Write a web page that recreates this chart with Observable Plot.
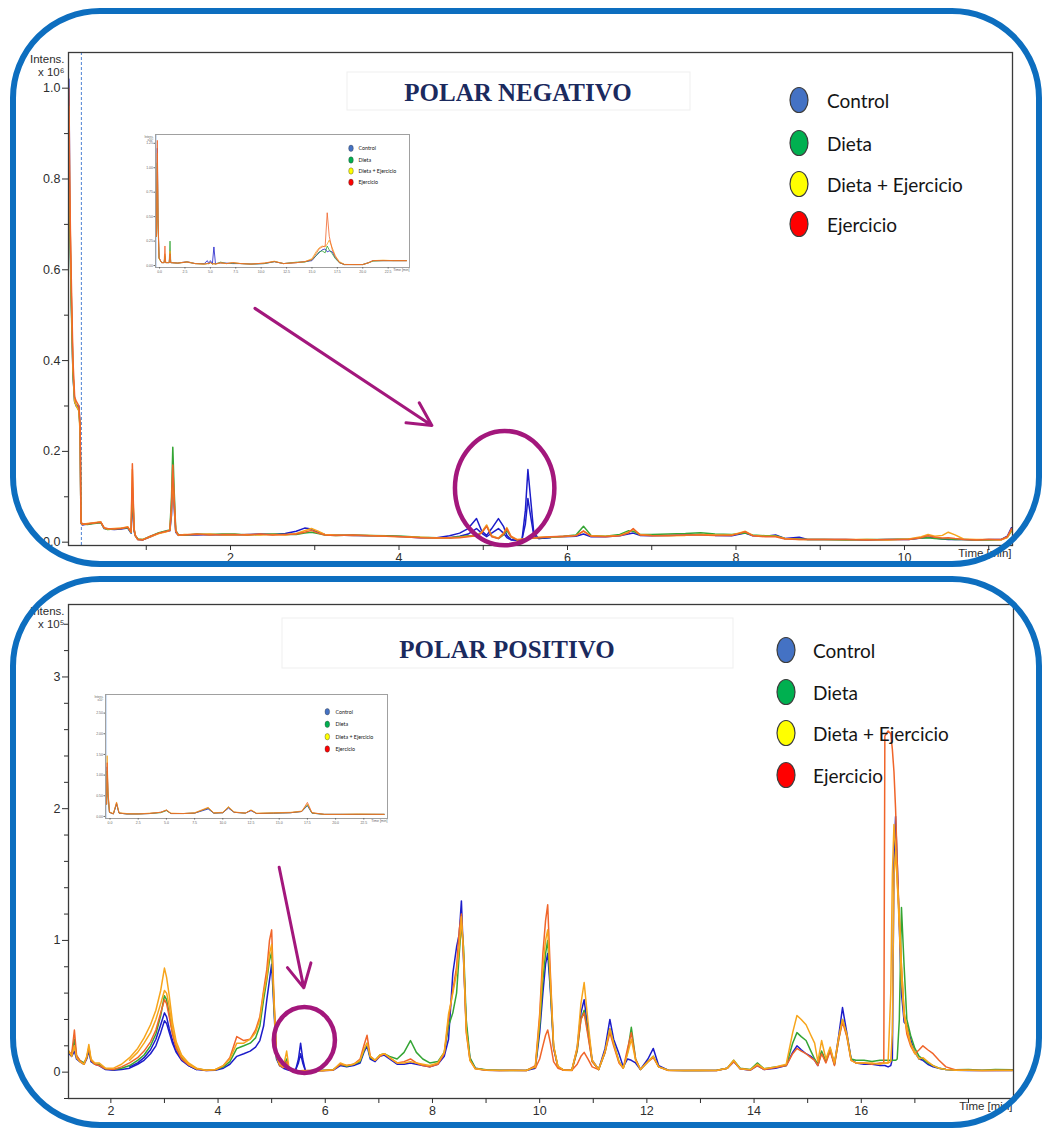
<!DOCTYPE html>
<html><head><meta charset="utf-8">
<script src="https://cdn.jsdelivr.net/npm/d3@7"></script>
<script src="https://cdn.jsdelivr.net/npm/@observablehq/plot@0.6"></script>
<style>
body{margin:0;background:#fff;}
#page{position:relative;width:1044px;height:1131px;overflow:hidden;background:#fff;}
.border{position:absolute;box-sizing:border-box;border:6px solid #0d6ebf;border-radius:90px;pointer-events:none;}
#err{position:absolute;left:0;top:0;color:red;font:12px sans-serif;z-index:99}
</style></head>
<body><div id="page"><div id="err"></div></div>
<script>
// ---------- categories ----------
const groups = ["Control", "Dieta", "Dieta + Ejercicio", "Ejercicio"];

// ---------- POLAR NEGATIVO (time in min, intensity x10^6) ----------
const tNeg = [
 0.08, 0.085, 0.09, 0.10, 0.11, 0.13, 0.15, 0.17, 0.20, 0.215,
 0.225, 0.24, 0.30, 0.38, 0.46, 0.50, 0.54, 0.62, 0.70, 0.78,
 0.82, 0.835, 0.845, 0.855, 0.87, 0.90, 0.96, 1.05, 1.15, 1.24,
 1.28, 1.30, 1.315, 1.33, 1.35, 1.38, 1.45, 1.60, 1.75, 1.90,
 2.05, 2.20, 2.35, 2.50, 2.65, 2.78, 2.88, 2.96, 3.04, 3.12,
 3.25, 3.45, 3.65, 3.85, 4.05, 4.25, 4.45, 4.60, 4.72, 4.82,
 4.92, 4.98, 5.04, 5.10, 5.18, 5.24, 5.28, 5.33, 5.40, 5.46,
 5.50, 5.53, 5.56, 5.60, 5.66, 5.80, 5.95, 6.10, 6.19, 6.28,
 6.45, 6.62, 6.72, 6.78, 6.86, 7.00, 7.20, 7.40, 7.58, 7.75,
 7.95, 8.05, 8.11, 8.20, 8.35, 8.47, 8.58, 8.75, 8.85, 9.05,
 9.30, 9.55, 9.80, 10.05, 10.20, 10.28, 10.36, 10.45, 10.52, 10.60,
 10.70, 10.85, 11.00, 11.15, 11.22, 11.27];
const controlNeg = [
 1.02, 0.95, 0.80, 0.64, 0.54, 0.37, 0.31, 0.30, 0.30, 0.25,
 0.042, 0.038, 0.040, 0.042, 0.044, 0.030, 0.029, 0.028, 0.029, 0.031,
 0.020, 0.09, 0.07, 0.025, 0.014, 0.006, 0.005, 0.012, 0.020, 0.024,
 0.025, 0.06, 0.14, 0.08, 0.022, 0.015, 0.016, 0.016, 0.017, 0.016,
 0.016, 0.017, 0.018, 0.017, 0.019, 0.024, 0.031, 0.029, 0.022, 0.017,
 0.016, 0.015, 0.014, 0.014, 0.012, 0.010, 0.010, 0.014, 0.020, 0.030,
 0.052, 0.025, 0.015, 0.030, 0.052, 0.035, 0.015, 0.006, 0.004, 0.006,
 0.07, 0.16, 0.10, 0.02, 0.008, 0.011, 0.012, 0.013, 0.018, 0.012,
 0.012, 0.014, 0.018, 0.020, 0.015, 0.014, 0.015, 0.016, 0.017, 0.015,
 0.014, 0.018, 0.020, 0.014, 0.013, 0.016, 0.008, 0.011, 0.006, 0.006,
 0.006, 0.005, 0.006, 0.006, 0.009, 0.011, 0.009, 0.007, 0.006, 0.006,
 0.006, 0.005, 0.006, 0.006, 0.013, 0.032];
const dietaNeg = [
 0.82, 0.78, 0.72, 0.62, 0.52, 0.37, 0.31, 0.30, 0.29, 0.25,
 0.044, 0.040, 0.039, 0.041, 0.043, 0.031, 0.028, 0.029, 0.030, 0.032,
 0.021, 0.12, 0.08, 0.028, 0.015, 0.007, 0.006, 0.013, 0.021, 0.025,
 0.027, 0.10, 0.209, 0.12, 0.026, 0.017, 0.015, 0.018, 0.017, 0.018,
 0.018, 0.016, 0.017, 0.018, 0.017, 0.017, 0.020, 0.022, 0.019, 0.016,
 0.015, 0.016, 0.015, 0.014, 0.013, 0.011, 0.010, 0.010, 0.012, 0.014,
 0.015, 0.021, 0.036, 0.013, 0.008, 0.016, 0.026, 0.011, 0.005, 0.006,
 0.006, 0.007, 0.008, 0.009, 0.010, 0.011, 0.013, 0.016, 0.035, 0.015,
 0.013, 0.017, 0.025, 0.024, 0.017, 0.017, 0.018, 0.019, 0.021, 0.018,
 0.017, 0.019, 0.020, 0.016, 0.014, 0.014, 0.008, 0.007, 0.006, 0.006,
 0.005, 0.006, 0.006, 0.007, 0.009, 0.010, 0.008, 0.007, 0.007, 0.006,
 0.006, 0.005, 0.005, 0.006, 0.011, 0.024];
const dietaEjNeg = [
 0.96, 0.88, 0.78, 0.66, 0.55, 0.38, 0.31, 0.30, 0.29, 0.24,
 0.043, 0.039, 0.041, 0.043, 0.045, 0.031, 0.029, 0.030, 0.031, 0.034,
 0.022, 0.16, 0.09, 0.030, 0.014, 0.006, 0.006, 0.012, 0.019, 0.023,
 0.026, 0.07, 0.15, 0.09, 0.024, 0.015, 0.017, 0.017, 0.018, 0.016,
 0.016, 0.017, 0.016, 0.017, 0.016, 0.019, 0.025, 0.030, 0.024, 0.017,
 0.016, 0.015, 0.015, 0.013, 0.012, 0.011, 0.009, 0.010, 0.011, 0.013,
 0.013, 0.022, 0.038, 0.014, 0.009, 0.020, 0.032, 0.013, 0.006, 0.007,
 0.007, 0.008, 0.009, 0.010, 0.011, 0.012, 0.012, 0.015, 0.024, 0.014,
 0.013, 0.015, 0.022, 0.028, 0.017, 0.015, 0.014, 0.015, 0.017, 0.016,
 0.016, 0.021, 0.024, 0.015, 0.013, 0.013, 0.008, 0.006, 0.006, 0.006,
 0.006, 0.006, 0.005, 0.007, 0.012, 0.017, 0.013, 0.015, 0.022, 0.016,
 0.007, 0.006, 0.006, 0.005, 0.010, 0.026];
const ejercicioNeg = [
 1.00, 0.93, 0.82, 0.68, 0.58, 0.40, 0.32, 0.31, 0.30, 0.26,
 0.045, 0.040, 0.040, 0.042, 0.044, 0.032, 0.030, 0.029, 0.030, 0.033,
 0.022, 0.173, 0.10, 0.030, 0.015, 0.006, 0.005, 0.013, 0.020, 0.024,
 0.026, 0.08, 0.17, 0.10, 0.025, 0.016, 0.016, 0.018, 0.016, 0.017,
 0.017, 0.016, 0.018, 0.016, 0.017, 0.018, 0.022, 0.026, 0.020, 0.016,
 0.015, 0.016, 0.014, 0.013, 0.012, 0.010, 0.009, 0.009, 0.010, 0.012,
 0.014, 0.020, 0.035, 0.012, 0.008, 0.018, 0.030, 0.012, 0.005, 0.006,
 0.007, 0.008, 0.008, 0.009, 0.010, 0.012, 0.013, 0.014, 0.025, 0.013,
 0.012, 0.014, 0.020, 0.030, 0.016, 0.014, 0.015, 0.016, 0.016, 0.015,
 0.015, 0.020, 0.023, 0.014, 0.012, 0.012, 0.007, 0.006, 0.006, 0.006,
 0.006, 0.005, 0.006, 0.006, 0.010, 0.014, 0.011, 0.009, 0.010, 0.008,
 0.006, 0.005, 0.006, 0.006, 0.012, 0.030];
// second Control replicate (only where it differs)
const tNegControlRep = [4.60, 4.72, 4.82, 4.92, 4.98, 5.04, 5.10, 5.18, 5.24, 5.28, 5.33, 5.40, 5.46, 5.50, 5.53, 5.56, 5.60, 5.66, 5.80];
const controlNegRep = [0.010, 0.013, 0.018, 0.030, 0.020, 0.012, 0.020, 0.030, 0.020, 0.010, 0.005, 0.004, 0.006, 0.040, 0.096, 0.060, 0.015, 0.008, 0.010];
const negMarkerTime = [0.23];

// ---------- POLAR POSITIVO (time in min, intensity x10^5) ----------
const tPos = [
 1.22, 1.27, 1.32, 1.36, 1.42, 1.50, 1.55, 1.59, 1.63, 1.70,
 1.78, 1.90, 2.05, 2.20, 2.35, 2.50, 2.62, 2.74, 2.84, 2.93,
 3.00, 3.04, 3.09, 3.15, 3.22, 3.32, 3.45, 3.60, 3.78, 3.95,
 4.10, 4.22, 4.35, 4.48, 4.60, 4.70, 4.78, 4.85, 4.91, 4.96,
 5.00, 5.04, 5.09, 5.15, 5.22, 5.28, 5.32, 5.38, 5.45, 5.50,
 5.54, 5.58, 5.63, 5.75, 5.95, 6.15, 6.28, 6.40, 6.53, 6.65,
 6.72, 6.78, 6.84, 6.93, 7.02, 7.10, 7.20, 7.34, 7.47, 7.59,
 7.70, 7.82, 7.95, 8.10, 8.22, 8.30, 8.38, 8.45, 8.50, 8.54,
 8.58, 8.63, 8.70, 8.80, 9.00, 9.25, 9.50, 9.75, 9.92, 10.00,
 10.06, 10.11, 10.15, 10.20, 10.26, 10.34, 10.45, 10.60, 10.70, 10.77,
 10.83, 10.90, 10.98, 11.10, 11.22, 11.31, 11.38, 11.48, 11.56, 11.64,
 11.71, 11.79, 11.88, 12.02, 12.12, 12.22, 12.40, 12.70, 13.00, 13.30,
 13.50, 13.62, 13.74, 13.93, 14.06, 14.19, 14.40, 14.60, 14.72, 14.80,
 14.88, 14.97, 15.06, 15.13, 15.19, 15.26, 15.34, 15.42, 15.50, 15.58,
 15.65, 15.73, 15.81, 15.90, 16.05, 16.20, 16.35, 16.42, 16.44, 16.50,
 16.55, 16.58, 16.61, 16.64, 16.67, 16.71, 16.75, 16.80, 16.85, 16.92,
 17.00, 17.08, 17.15, 17.24, 17.34, 17.45, 17.58, 17.75, 18.00, 18.25,
 18.50, 18.82];
const controlPos = [
 0.14, 0.12, 0.16, 0.10, 0.08, 0.06, 0.10, 0.16, 0.08, 0.06,
 0.05, 0.02, 0.015, 0.02, 0.03, 0.06, 0.09, 0.14, 0.20, 0.30,
 0.39, 0.37, 0.30, 0.22, 0.15, 0.09, 0.05, 0.02, 0.012, 0.015,
 0.03, 0.06, 0.12, 0.14, 0.16, 0.19, 0.24, 0.35, 0.55, 0.70,
 0.82, 0.50, 0.10, 0.05, 0.03, 0.02, 0.015, 0.01, 0.02, 0.10,
 0.22, 0.10, 0.01, 0.01, 0.012, 0.015, 0.05, 0.04, 0.05, 0.07,
 0.15, 0.20, 0.10, 0.08, 0.12, 0.13, 0.10, 0.06, 0.06, 0.07,
 0.06, 0.05, 0.04, 0.06, 0.12, 0.25, 0.75, 0.95, 1.05, 1.30,
 0.85, 0.35, 0.10, 0.03, 0.015, 0.012, 0.015, 0.012, 0.03, 0.30,
 0.60, 0.82, 0.90, 0.62, 0.18, 0.04, 0.015, 0.015, 0.18, 0.45,
 0.55, 0.33, 0.09, 0.02, 0.18, 0.40, 0.25, 0.14, 0.04, 0.10,
 0.09, 0.07, 0.02, 0.10, 0.18, 0.05, 0.015, 0.012, 0.013, 0.012,
 0.03, 0.08, 0.025, 0.015, 0.05, 0.02, 0.03, 0.05, 0.15, 0.20,
 0.17, 0.14, 0.12, 0.09, 0.05, 0.15, 0.08, 0.17, 0.06, 0.28,
 0.49, 0.30, 0.10, 0.07, 0.06, 0.06, 0.05, 0.05, 0.05, 0.04,
 0.05, 0.10, 1.60, 1.94, 1.60, 1.10, 0.60, 0.38, 0.36, 0.25,
 0.15, 0.10, 0.09, 0.06, 0.04, 0.03, 0.02, 0.015, 0.013, 0.012,
 0.013, 0.012];
const dietaPos = [
 0.15, 0.13, 0.25, 0.12, 0.09, 0.07, 0.11, 0.18, 0.09, 0.06,
 0.06, 0.025, 0.02, 0.03, 0.05, 0.09, 0.13, 0.20, 0.29, 0.43,
 0.58, 0.55, 0.44, 0.30, 0.19, 0.11, 0.06, 0.025, 0.015, 0.018,
 0.04, 0.08, 0.18, 0.20, 0.22, 0.26, 0.35, 0.55, 0.70, 0.85,
 0.91, 0.55, 0.11, 0.05, 0.04, 0.10, 0.03, 0.01, 0.01, 0.01,
 0.01, 0.01, 0.01, 0.012, 0.013, 0.02, 0.06, 0.045, 0.06, 0.08,
 0.16, 0.22, 0.11, 0.09, 0.13, 0.14, 0.12, 0.10, 0.15, 0.24,
 0.15, 0.10, 0.07, 0.08, 0.15, 0.35, 0.45, 0.60, 0.90, 1.12,
 0.95, 0.40, 0.11, 0.03, 0.018, 0.015, 0.012, 0.014, 0.04, 0.35,
 0.70, 0.90, 1.00, 0.65, 0.20, 0.04, 0.015, 0.014, 0.16, 0.40,
 0.47, 0.30, 0.08, 0.02, 0.15, 0.33, 0.22, 0.08, 0.03, 0.15,
 0.34, 0.10, 0.02, 0.08, 0.12, 0.04, 0.014, 0.013, 0.012, 0.014,
 0.03, 0.09, 0.03, 0.02, 0.07, 0.025, 0.04, 0.05, 0.22, 0.30,
 0.27, 0.24, 0.16, 0.10, 0.06, 0.16, 0.08, 0.18, 0.06, 0.25,
 0.40, 0.28, 0.10, 0.09, 0.09, 0.08, 0.09, 0.09, 0.09, 0.09,
 0.09, 0.09, 0.09, 0.09, 0.10, 0.40, 1.25, 0.80, 0.40, 0.28,
 0.18, 0.12, 0.10, 0.07, 0.05, 0.03, 0.02, 0.018, 0.02, 0.015,
 0.02, 0.018];
const dietaEjPos = [
 0.16, 0.12, 0.20, 0.11, 0.08, 0.06, 0.12, 0.21, 0.10, 0.07,
 0.07, 0.03, 0.03, 0.06, 0.11, 0.18, 0.26, 0.36, 0.47, 0.62,
 0.79, 0.72, 0.58, 0.38, 0.23, 0.13, 0.07, 0.03, 0.015, 0.02,
 0.05, 0.10, 0.22, 0.22, 0.25, 0.30, 0.40, 0.60, 0.72, 0.90,
 0.97, 0.57, 0.12, 0.06, 0.04, 0.16, 0.04, 0.015, 0.01, 0.01,
 0.01, 0.012, 0.01, 0.01, 0.012, 0.018, 0.07, 0.05, 0.06, 0.09,
 0.17, 0.22, 0.12, 0.09, 0.13, 0.14, 0.11, 0.07, 0.07, 0.08,
 0.07, 0.06, 0.05, 0.07, 0.15, 0.44, 0.60, 0.75, 0.95, 1.18,
 0.90, 0.32, 0.09, 0.025, 0.016, 0.013, 0.014, 0.013, 0.04, 0.40,
 0.80, 1.00, 1.08, 0.70, 0.20, 0.045, 0.016, 0.015, 0.19, 0.52,
 0.68, 0.39, 0.09, 0.02, 0.16, 0.33, 0.22, 0.08, 0.03, 0.14,
 0.25, 0.09, 0.02, 0.08, 0.12, 0.04, 0.015, 0.012, 0.014, 0.013,
 0.03, 0.09, 0.025, 0.018, 0.06, 0.025, 0.04, 0.06, 0.30, 0.43,
 0.40, 0.36, 0.28, 0.22, 0.08, 0.24, 0.10, 0.19, 0.07, 0.27,
 0.40, 0.29, 0.09, 0.07, 0.07, 0.07, 0.06, 0.07, 0.07, 0.07,
 0.60, 1.50, 1.88, 1.70, 1.45, 1.20, 0.80, 0.45, 0.35, 0.22,
 0.15, 0.10, 0.11, 0.08, 0.05, 0.03, 0.02, 0.015, 0.014, 0.013,
 0.014, 0.013];
const ejercicioPos = [
 0.15, 0.14, 0.32, 0.13, 0.09, 0.06, 0.11, 0.19, 0.09, 0.06,
 0.05, 0.025, 0.02, 0.04, 0.07, 0.11, 0.16, 0.23, 0.32, 0.45,
 0.55, 0.52, 0.42, 0.29, 0.18, 0.10, 0.055, 0.025, 0.013, 0.018,
 0.05, 0.11, 0.27, 0.24, 0.25, 0.32, 0.42, 0.62, 0.78, 1.00,
 1.08, 0.60, 0.12, 0.05, 0.035, 0.08, 0.03, 0.012, 0.01, 0.01,
 0.01, 0.01, 0.012, 0.012, 0.01, 0.016, 0.06, 0.05, 0.06, 0.10,
 0.20, 0.28, 0.12, 0.09, 0.12, 0.14, 0.11, 0.07, 0.08, 0.10,
 0.07, 0.05, 0.04, 0.06, 0.14, 0.40, 0.62, 0.80, 1.08, 1.20,
 0.88, 0.30, 0.09, 0.025, 0.014, 0.013, 0.012, 0.012, 0.05, 0.44,
 0.90, 1.15, 1.27, 0.75, 0.19, 0.04, 0.014, 0.013, 0.17, 0.40,
 0.45, 0.28, 0.08, 0.02, 0.15, 0.30, 0.20, 0.07, 0.03, 0.18,
 0.30, 0.10, 0.02, 0.08, 0.11, 0.04, 0.013, 0.012, 0.012, 0.012,
 0.03, 0.08, 0.025, 0.016, 0.05, 0.02, 0.035, 0.05, 0.14, 0.18,
 0.16, 0.14, 0.11, 0.09, 0.05, 0.14, 0.07, 0.16, 0.05, 0.25,
 0.38, 0.27, 0.09, 0.07, 0.07, 0.06, 0.07, 0.07, 2.55, 2.59,
 2.57, 2.45, 2.28, 2.00, 1.60, 1.15, 0.80, 0.45, 0.29, 0.20,
 0.14, 0.17, 0.20, 0.17, 0.14, 0.09, 0.04, 0.018, 0.014, 0.012,
 0.012, 0.015];
// extra replicate traces (only over the stretches where they visibly differ)
const tPosControlRepA = [2.35, 2.50, 2.62, 2.74, 2.84, 2.93, 3.00, 3.04, 3.09, 3.15, 3.22, 3.32, 3.45, 3.60];
const controlPosRepA  = [0.04, 0.07, 0.11, 0.17, 0.25, 0.36, 0.45, 0.42, 0.33, 0.24, 0.16, 0.10, 0.05, 0.02];
const tPosControlRepB = [5.38, 5.45, 5.50, 5.54, 5.58, 5.63, 5.75];
const controlPosRepB  = [0.01, 0.02, 0.07, 0.14, 0.07, 0.01, 0.01];
const tPosDietaEjRepA = [2.35, 2.50, 2.62, 2.74, 2.84, 2.93, 3.00, 3.04, 3.09, 3.15, 3.22, 3.32, 3.45, 3.60];
const dietaEjPosRepA  = [0.09, 0.15, 0.22, 0.30, 0.40, 0.52, 0.62, 0.60, 0.50, 0.33, 0.21, 0.12, 0.06, 0.025];
const tPosDietaEjRepB = [16.42, 16.50, 16.55, 16.58, 16.61, 16.64, 16.67, 16.71, 16.75, 16.80, 16.85, 16.92, 17.00];
const dietaEjPosRepB  = [0.07, 0.07, 0.08, 0.30, 1.50, 1.68, 1.45, 1.10, 0.70, 0.42, 0.32, 0.22, 0.14];
const tPosEjercicioRep = [9.92, 10.00, 10.06, 10.11, 10.15, 10.20, 10.26, 10.34, 10.45, 10.60, 10.70, 10.77, 10.83, 10.90, 10.98, 11.10];
const ejercicioPosRep  = [0.03, 0.10, 0.20, 0.28, 0.32, 0.22, 0.08, 0.03, 0.015, 0.014, 0.06, 0.12, 0.15, 0.10, 0.04, 0.02];

// ---------- inset thumbnails (full-run overview) ----------
const tInsetNeg = [
 -0.3, -0.22, -0.15, -0.05, 0.2, 0.45, 0.53, 0.6, 0.95, 1.03,
 1.1, 1.8, 2.7, 3.5, 4.4, 4.7, 4.85, 5.0, 5.2, 5.35,
 5.5, 6.0, 6.6, 7.2, 8.0, 9.0, 10.3, 11.3, 12.2, 13.5,
 14.3, 15.0, 15.4, 15.7, 16.0, 16.3, 16.5, 16.7, 17.0, 17.3,
 17.7, 18.2, 19.0, 20.0, 20.6, 21.0, 22.0, 23.0, 24.3];
const insetNegControl = [
 0.3, 1.20, 0.48, 0.08, 0.03, 0.03, 0.08, 0.03, 0.03, 0.12,
 0.03, 0.025, 0.04, 0.02, 0.02, 0.05, 0.02, 0.05, 0.02, 0.19,
 0.02, 0.025, 0.025, 0.02, 0.02, 0.015, 0.02, 0.04, 0.02, 0.03,
 0.04, 0.05, 0.10, 0.13, 0.16, 0.17, 0.14, 0.15, 0.14, 0.08,
 0.03, 0.01, 0.01, 0.01, 0.03, 0.05, 0.05, 0.05, 0.05];
const insetNegDieta = [
 0.3, 1.05, 0.42, 0.07, 0.03, 0.03, 0.10, 0.03, 0.03, 0.25,
 0.03, 0.025, 0.035, 0.02, 0.015, 0.02, 0.02, 0.03, 0.015, 0.02,
 0.015, 0.035, 0.02, 0.025, 0.02, 0.015, 0.02, 0.04, 0.02, 0.035,
 0.035, 0.06, 0.10, 0.14, 0.15, 0.13, 0.20, 0.16, 0.12, 0.07,
 0.03, 0.01, 0.01, 0.01, 0.03, 0.045, 0.05, 0.05, 0.05];
const insetNegDietaEj = [
 0.3, 1.15, 0.45, 0.07, 0.03, 0.03, 0.12, 0.03, 0.03, 0.15,
 0.03, 0.025, 0.04, 0.02, 0.015, 0.02, 0.02, 0.03, 0.015, 0.02,
 0.015, 0.025, 0.02, 0.03, 0.02, 0.015, 0.025, 0.045, 0.02, 0.03,
 0.04, 0.07, 0.14, 0.18, 0.20, 0.19, 0.22, 0.26, 0.18, 0.10,
 0.04, 0.012, 0.01, 0.01, 0.03, 0.05, 0.055, 0.05, 0.05];
const insetNegEjercicio = [
 0.3, 1.28, 0.50, 0.08, 0.03, 0.03, 0.20, 0.03, 0.03, 0.12,
 0.03, 0.025, 0.035, 0.02, 0.015, 0.02, 0.02, 0.03, 0.015, 0.02,
 0.015, 0.03, 0.02, 0.03, 0.02, 0.015, 0.025, 0.04, 0.02, 0.03,
 0.04, 0.06, 0.12, 0.17, 0.19, 0.20, 0.54, 0.30, 0.16, 0.09,
 0.03, 0.01, 0.01, 0.01, 0.03, 0.05, 0.05, 0.05, 0.05];
const tInsetPos = [
 -0.3, -0.25, -0.18, -0.05, 0.3, 0.58, 0.8, 1.5, 2.5, 3.5,
 4.5, 5.0, 5.4, 6.5, 7.5, 8.7, 9.2, 10.0, 10.5, 11.0,
 12.0, 12.5, 13.0, 14.5, 16.0, 17.0, 17.5, 17.9, 19.0, 20.5,
 22.0, 24.3];
const insetPosControl = [
 0.3, 1.20, 0.55, 0.10, 0.06, 0.30, 0.08, 0.06, 0.06, 0.07,
 0.10, 0.15, 0.07, 0.07, 0.08, 0.18, 0.08, 0.09, 0.20, 0.10,
 0.08, 0.14, 0.07, 0.08, 0.09, 0.12, 0.26, 0.08, 0.05, 0.05,
 0.05, 0.05];
const insetPosDieta = [
 0.3, 1.10, 0.50, 0.10, 0.06, 0.32, 0.08, 0.06, 0.06, 0.07,
 0.09, 0.14, 0.07, 0.07, 0.08, 0.20, 0.08, 0.09, 0.22, 0.10,
 0.08, 0.15, 0.07, 0.08, 0.09, 0.12, 0.28, 0.08, 0.05, 0.05,
 0.05, 0.05];
const insetPosDietaEj = [
 0.3, 1.47, 0.65, 0.11, 0.07, 0.35, 0.09, 0.07, 0.06, 0.08,
 0.10, 0.16, 0.08, 0.07, 0.09, 0.22, 0.09, 0.10, 0.24, 0.11,
 0.08, 0.16, 0.08, 0.09, 0.10, 0.13, 0.30, 0.09, 0.05, 0.05,
 0.06, 0.05];
const insetPosEjercicio = [
 0.3, 1.30, 0.60, 0.10, 0.06, 0.33, 0.08, 0.06, 0.06, 0.07,
 0.10, 0.15, 0.07, 0.07, 0.08, 0.21, 0.08, 0.09, 0.22, 0.10,
 0.08, 0.15, 0.07, 0.08, 0.09, 0.12, 0.34, 0.09, 0.05, 0.05,
 0.05, 0.05];

// ---------- tick labels ----------
const negYTicks = [0, 0.2, 0.4, 0.6, 0.8, 1.0];
const negYMinor = [0.1, 0.3, 0.5, 0.7, 0.9];
const negXTicks = [2, 4, 6, 8, 10];
const negXMinor = [1, 3, 5, 7, 9, 11];
const posYTicks = [0, 1, 2, 3];
const posYMinor = [-0.2, 0.2, 0.4, 0.6, 0.8, 1.2, 1.4, 1.6, 1.8, 2.2, 2.4, 2.6, 2.8, 3.2, 3.4];
const posXTicks = [2, 4, 6, 8, 10, 12, 14, 16];
const posXMinor = [3, 5, 7, 9, 11, 13, 15, 17, 18];
const insetXTicks = [0, 2.5, 5, 7.5, 10, 12.5, 15, 17.5, 20, 22.5];
const insetNegYTicks = [0, 0.25, 0.5, 0.75, 1.0, 1.25];
const insetPosYTicks = [0, 0.5, 1.0, 1.5, 2.0, 2.5];

// ---------- annotations (in data units) ----------
const arrowNeg = [{fromTime: 2.29, fromIntens: 0.515, toTime: 4.39, toIntens: 0.257}];
const circleNeg = {time: 5.26, intens: 0.118, halfWidth: 0.59, halfHeight: 0.126};
const arrowPos = [{fromTime: 5.14, fromIntens: 1.555, toTime: 5.60, toIntens: 0.64}];
const circlePos = {time: 5.62, intens: 0.24, halfWidth: 0.57, halfHeight: 0.25};

// ================= rendering =================
const lineColors = ["#1c1cc9", "#34a534", "#f7a51c", "#f0652a"];
const legendColors = ["#4472c4", "#00b050", "#ffff00", "#ff0000"];
const magenta = "#a3177c";
const page = document.getElementById("page");
const errs = [];

function trace(group, time, value, name) {
  if (time.length !== value.length) errs.push(name + ": " + time.length + " vs " + value.length);
  return {group, time, value};
}
function toRows(traces) {
  const rows = [];
  traces.forEach((tr, i) => tr.time.forEach((t, j) => rows.push({time: t, intens: tr.value[j], group: tr.group, trace: i})));
  return rows;
}
function place(el, left, top) {
  el.style.position = "absolute"; el.style.left = left + "px"; el.style.top = top + "px";
  page.appendChild(el);
}

const negRows = toRows([
  trace("Control", tNeg, controlNeg, "controlNeg"),
  trace("Control", tNegControlRep, controlNegRep, "controlNegRep"),
  trace("Dieta", tNeg, dietaNeg, "dietaNeg"),
  trace("Dieta + Ejercicio", tNeg, dietaEjNeg, "dietaEjNeg"),
  trace("Ejercicio", tNeg, ejercicioNeg, "ejercicioNeg")
]);
const posRows = toRows([
  trace("Control", tPos, controlPos, "controlPos"),
  trace("Control", tPosControlRepA, controlPosRepA, "controlPosRepA"),
  trace("Control", tPosControlRepB, controlPosRepB, "controlPosRepB"),
  trace("Dieta", tPos, dietaPos, "dietaPos"),
  trace("Ejercicio", tPos, ejercicioPos, "ejercicioPos"),
  trace("Ejercicio", tPosEjercicioRep, ejercicioPosRep, "ejercicioPosRep"),
  trace("Dieta + Ejercicio", tPos, dietaEjPos, "dietaEjPos"),
  trace("Dieta + Ejercicio", tPosDietaEjRepA, dietaEjPosRepA, "dietaEjPosRepA"),
  trace("Dieta + Ejercicio", tPosDietaEjRepB, dietaEjPosRepB, "dietaEjPosRepB")
]);
const insetNegRows = toRows([
  trace("Control", tInsetNeg, insetNegControl, "insetNegControl"),
  trace("Dieta", tInsetNeg, insetNegDieta, "insetNegDieta"),
  trace("Dieta + Ejercicio", tInsetNeg, insetNegDietaEj, "insetNegDietaEj"),
  trace("Ejercicio", tInsetNeg, insetNegEjercicio, "insetNegEjercicio")
]);
const insetPosRows = toRows([
  trace("Control", tInsetPos, insetPosControl, "insetPosControl"),
  trace("Dieta", tInsetPos, insetPosDieta, "insetPosDieta"),
  trace("Dieta + Ejercicio", tInsetPos, insetPosDietaEj, "insetPosDietaEj"),
  trace("Ejercicio", tInsetPos, insetPosEjercicio, "insetPosEjercicio")
]);

const blank = () => "";
const axisFont = "'Liberation Sans', Arial, sans-serif";

function mainChart(o) {
  const marks = [];
  if (o.marker) marks.push(Plot.ruleX(o.marker, {stroke: "#4f83d4", strokeDasharray: "3,2", strokeWidth: 1}));
  marks.push(
    Plot.line(o.rows, {x: "time", y: "intens", z: "trace", stroke: "group", strokeWidth: 1.5, strokeLinejoin: "round"}),
    Plot.frame({stroke: "#3a3a3a", strokeWidth: 1.3}),
    Plot.axisY({ticks: o.yTicks, tickSize: 6, tickPadding: 2, tickFormat: o.yFormat, label: null, fontSize: 12.5}),
    Plot.axisY({ticks: o.yMinor, tickSize: 4, tickFormat: blank, label: null}),
    Plot.axisX({ticks: o.xTicks, tickSize: 5, tickPadding: 3, label: null, fontSize: 12.5}),
    Plot.axisX({ticks: o.xMinor, tickSize: 5, tickFormat: blank, label: null}),
    Plot.text(["Intens."], {text: d => d, frameAnchor: "top-left", dx: -4, dy: 2, textAnchor: "end", fontSize: 11.5}),
    Plot.text([o.unit], {text: d => d, frameAnchor: "top-left", dx: -4, dy: 15, textAnchor: "end", fontSize: 11.5}),
    Plot.text(["Time [min]"], {text: d => d, frameAnchor: "bottom-right", dx: -1, dy: 11, textAnchor: "end", fontSize: 11.5}),
    Plot.arrow(o.arrow, {x1: "fromTime", y1: "fromIntens", x2: "toTime", y2: "toIntens", stroke: magenta, strokeWidth: 3, headLength: 13, headAngle: 55})
  );
  const chart = Plot.plot({
    width: 1044, height: o.height,
    marginLeft: 68, marginRight: o.mr, marginTop: o.mt, marginBottom: o.mb,
    x: {domain: o.xDomain, label: null},
    y: {domain: o.yDomain, label: null},
    color: {domain: groups, range: lineColors},
    style: {background: "transparent", fontFamily: axisFont, fontSize: "12.5px", color: "#2e2e2e", overflow: "visible"},
    marks
  });
  const sx = chart.scale("x"), sy = chart.scale("y");
  const c = o.circle;
  const cx = sx.apply(c.time), cy = sy.apply(c.intens);
  const rx = Math.abs(sx.apply(c.time + c.halfWidth) - cx);
  const ry = Math.abs(sy.apply(c.intens + c.halfHeight) - cy);
  d3.select(chart).append("ellipse").attr("cx", cx).attr("cy", cy).attr("rx", rx).attr("ry", ry)
    .attr("fill", "none").attr("stroke", magenta).attr("stroke-width", 4.5);
  return chart;
}

function insetChart(o) {
  return Plot.plot({
    width: o.width, height: o.height,
    marginLeft: 14, marginRight: 2, marginTop: 4, marginBottom: 9,
    x: {domain: [-0.4, 24.6], label: null},
    y: {domain: o.yDomain, label: null},
    color: {domain: groups, range: lineColors},
    style: {background: "#fff", fontFamily: axisFont, fontSize: "3.5px", color: "#666", overflow: "visible"},
    marks: [
      Plot.ruleX([-0.35], {stroke: "#cfe0f5", strokeWidth: 2}),
      Plot.line(o.rows, {x: "time", y: "intens", z: "trace", stroke: "group", strokeWidth: 0.8}),
      Plot.frame({stroke: "#a0a0a0", strokeWidth: 1}),
      Plot.axisY({ticks: o.yTicks, tickSize: 1.5, tickPadding: 1, label: null, fontSize: 3.5, tickFormat: d3.format(".2f")}),
      Plot.axisX({ticks: insetXTicks, tickSize: 1.5, tickPadding: 1, label: null, fontSize: 3.5, tickFormat: d3.format(".1f")}),
      Plot.text(["Intens.\n" + o.unit], {text: d => d, frameAnchor: "top-left", dx: -2, dy: 1, textAnchor: "end", fontSize: 3, lineHeight: 1.1}),
      Plot.text(["Time [min]"], {text: d => d, frameAnchor: "bottom-right", dx: 0, dy: 3.5, textAnchor: "end", fontSize: 3.5})
    ]
  });
}

try {
  const neg = mainChart({
    rows: negRows, height: 545, mt: 22, mb: 30, mr: 32,
    xDomain: [0.077, 11.282], yDomain: [-0.0073, 1.0786],
    yTicks: negYTicks, yMinor: negYMinor, xTicks: negXTicks, xMinor: negXMinor,
    yFormat: d3.format(".1f"), unit: "x 10\u2076", marker: negMarkerTime,
    arrow: arrowNeg, circle: circleNeg
  });
  place(neg, 0, 30);
  const pos = mainChart({
    rows: posRows, height: 550, mt: 24, mb: 32, mr: 31,
    xDomain: [1.21, 18.84], yDomain: [-0.2, 3.55],
    yTicks: posYTicks, yMinor: posYMinor, xTicks: posXTicks, xMinor: posXMinor,
    yFormat: d3.format("d"), unit: "x 10\u2075", marker: null,
    arrow: arrowPos, circle: circlePos
  });
  place(pos, 0, 580);

  place(insetChart({rows: insetNegRows, width: 270, height: 146, yDomain: [-0.02, 1.34], yTicks: insetNegYTicks, unit: "x10\u2076"}), 141, 130);
  place(insetChart({rows: insetPosRows, width: 298, height: 137, yDomain: [-0.05, 2.95], yTicks: insetPosYTicks, unit: "x10\u2075"}), 91, 690);

  // overlay: titles, legends
  const ov = d3.create("svg").attr("width", 1044).attr("height", 1131)
    .style("position", "absolute").style("left", "0px").style("top", "0px").style("pointer-events", "none");
  const titles = [
    {text: "POLAR NEGATIVO", box: [347, 72, 343, 38], x: 518, y: 101},
    {text: "POLAR POSITIVO", box: [282, 618, 451, 50], x: 507, y: 658}
  ];
  for (const t of titles) {
    ov.append("rect").attr("x", t.box[0]).attr("y", t.box[1]).attr("width", t.box[2]).attr("height", t.box[3])
      .attr("fill", "none").attr("stroke", "#efefef");
    ov.append("text").attr("x", t.x).attr("y", t.y).attr("text-anchor", "middle")
      .attr("font-family", "'Liberation Serif', 'Times New Roman', serif").attr("font-weight", "bold")
      .attr("font-size", 25).attr("fill", "#1b2a5e").text(t.text);
  }
  const legends = [
    {cx: 799, ys: [100, 143, 184, 224], tx: 827, rx: 9, ry: 12.5, fs: 19, sw: 1.2},
    {cx: 786, ys: [650, 692, 733, 775], tx: 813, rx: 9, ry: 12.5, fs: 19, sw: 1.2},
    {cx: 351, ys: [148.3, 160, 171, 182.3], tx: 358.5, rx: 2.3, ry: 3.2, fs: 5.3, sw: 0.4},
    {cx: 327.3, ys: [711.7, 724.3, 736.7, 749], tx: 335.5, rx: 2.3, ry: 3.2, fs: 5.3, sw: 0.4}
  ];
  for (const L of legends) {
    groups.forEach((g, i) => {
      ov.append("ellipse").attr("cx", L.cx).attr("cy", L.ys[i]).attr("rx", L.rx).attr("ry", L.ry)
        .attr("fill", legendColors[i]).attr("stroke", "#3c3c3c").attr("stroke-width", L.sw);
      ov.append("text").attr("x", L.tx).attr("y", L.ys[i]).attr("dominant-baseline", "central")
        .attr("font-family", "Lato, 'Open Sans', sans-serif").attr("font-size", L.fs).attr("fill", "#151515").text(g);
    });
  }
  page.appendChild(ov.node());

  // rounded blue panel borders
  [[10, 8, 1032, 559], [10, 576, 1032, 552]].forEach(([l, t, w, h]) => {
    const d = document.createElement("div");
    d.className = "border";
    d.style.left = l + "px"; d.style.top = t + "px"; d.style.width = w + "px"; d.style.height = h + "px";
    page.appendChild(d);
  });
} catch (e) {
  errs.push(String(e && e.stack || e));
}
if (errs.length) document.getElementById("err").textContent = errs.join(" | ");
</script>
</body></html>
